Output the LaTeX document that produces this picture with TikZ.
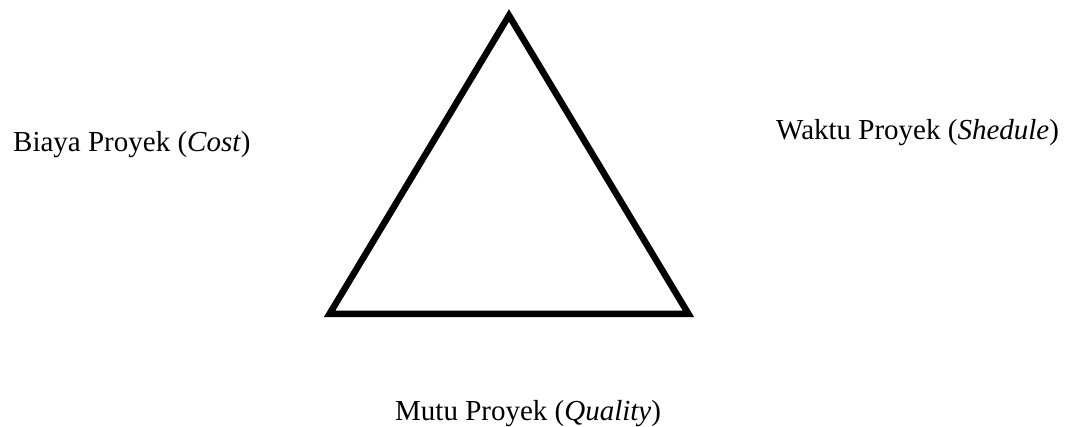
\documentclass[tikz,border=0pt]{standalone}
\usepackage{fontspec}
\setmainfont{Liberation Serif}
\begin{document}
\begin{tikzpicture}[x=1pt,y=-1pt,
  lbl/.style={inner sep=0pt, font=\fontsize{29}{34}\selectfont, anchor=base west}]
\useasboundingbox (0,0) rectangle (1074,427);
\draw[line width=6.5pt, line join=miter] (509,15.5) -- (688.4,313.8) -- (329.6,313.8) -- cycle;
\node[lbl] (cost) at (13,152) {Biaya Proyek (\textit{Cost})};
\node[lbl] (time) at (776,140) {Waktu Proyek (\textit{Shedule})};
\node[lbl] (quality) at (395,421) {Mutu Proyek (\textit{Quality})};
\end{tikzpicture}
\end{document}
